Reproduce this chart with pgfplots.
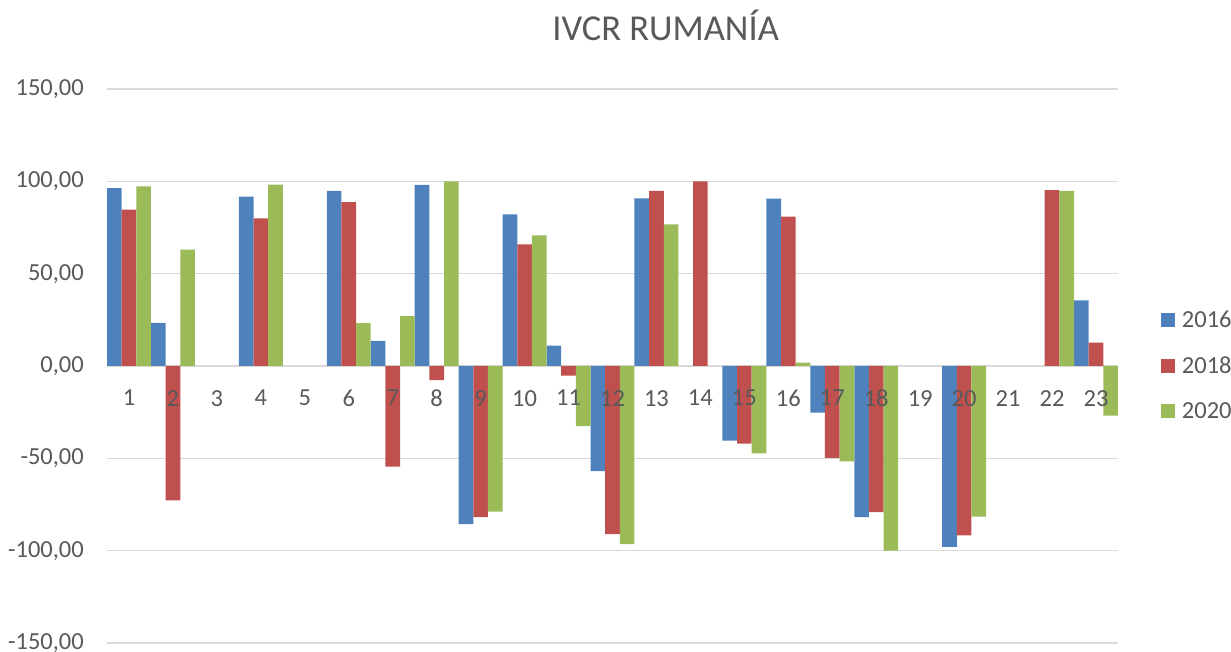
\documentclass[border=0pt]{standalone}
\usepackage{fontspec}
\setmainfont{Carlito}
\usepackage{pgfplots}
\pgfplotsset{compat=1.18}
\definecolor{sBlue}{HTML}{4F81BD}
\definecolor{sRed}{HTML}{C0504D}
\definecolor{sGreen}{HTML}{9BBB59}
\definecolor{txtGray}{HTML}{595959}
\definecolor{gridGray}{HTML}{D9D9D9}
\pgfplotsset{
  commonframe/.style={
    at={(107pt,8pt)}, anchor=south west,
    scale only axis, width=1011pt, height=554pt,
    xmin=0.5, xmax=23.5, ymin=-150, ymax=150,
    axis x line*=middle, axis y line*=left,
    x axis line style={draw=none}, y axis line style={draw=none},
    major tick length=0pt,
    /pgf/number format/assume math mode=true,
    tick label style={font=\fontsize{24.5}{28}\selectfont, text=txtGray},
    clip=false,
  }
}
\begin{document}
\begin{tikzpicture}
\useasboundingbox (0,0) rectangle (1231pt,651pt);
\begin{axis}[
  commonframe,
  ybar=0pt, bar width=14.65pt,
  ytick={-150,-100,...,150},
  xtick={1,...,23}, xticklabels={},
  ymajorgrids, grid style={gridGray, line width=1.3pt},
  yticklabel style={/pgf/number format/.cd, fixed, fixed zerofill, precision=2, use comma, /tikz/.cd, anchor=east, inner sep=0pt, xshift=-23pt},
  title={IVCR RUMANÍA},
  title style={font=\fontsize{36.5}{40}\selectfont, text=txtGray, at={(axis description cs:0.5525,1.0775)}, anchor=base, inner sep=0pt},
  legend style={at={(axis description cs:1.0425,0.5005)}, anchor=west, draw=none, fill=none, inner sep=0pt, outer sep=0pt, row sep=27.5pt, font=\fontsize{24.5}{28}\selectfont, text=txtGray, nodes={inner sep=0pt, anchor=west}, /tikz/every odd column/.append style={column sep=7pt}},
  legend cell align=left,
  legend image code/.code={\fill[#1] (0pt,-7pt) rectangle (14pt,7pt);},
]
\addplot[fill=sBlue, draw=none] coordinates {(1,96.3)(2,23.3)(4,91.7)(6,94.8)(7,13.6)(8,98.1)(9,-85.6)(10,82.1)(11,11.0)(12,-56.9)(13,90.8)(15,-40.4)(16,90.6)(17,-25.3)(18,-81.8)(20,-98.0)(23,35.5)};
\addplot[fill=sRed, draw=none] coordinates {(1,84.7)(2,-72.7)(4,80.0)(6,88.7)(7,-54.5)(8,-7.6)(9,-81.9)(10,65.9)(11,-5.2)(12,-91.0)(13,94.8)(14,100)(15,-42.1)(16,80.9)(17,-49.8)(18,-79.1)(20,-91.7)(22,95.2)(23,12.7)};
\addplot[fill=sGreen, draw=none] coordinates {(1,97.3)(2,63.0)(4,98.2)(6,23.2)(7,27.0)(8,100)(9,-78.9)(10,70.7)(11,-32.5)(12,-96.4)(13,76.7)(15,-47.3)(16,1.8)(17,-51.6)(18,-100)(20,-81.6)(22,94.8)(23,-26.9)};
\legend{2016,2018,2020}
\end{axis}
\begin{axis}[
  commonframe,
  ytick=\empty, yticklabels={},
  xtick={1,...,23},
  xticklabel style={anchor=north, inner sep=0pt, yshift=-24pt},
]
\end{axis}
\end{tikzpicture}
\end{document}
